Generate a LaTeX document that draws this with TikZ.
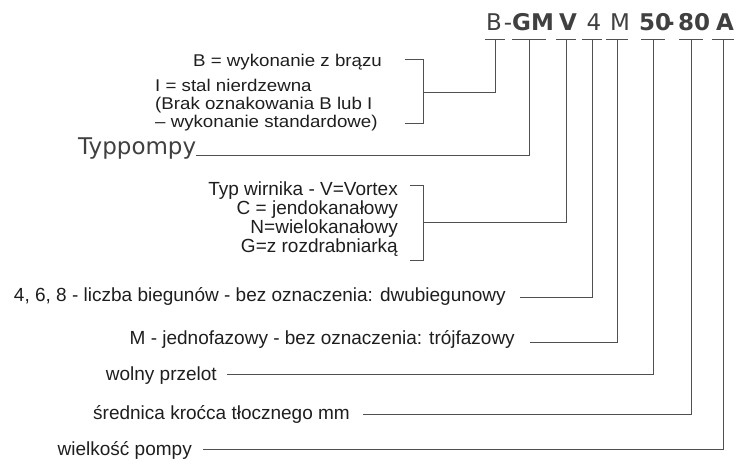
\documentclass[tikz,border=0pt]{standalone}
\usepackage{fontspec}
\setmainfont{Liberation Sans}
\newfontfamily\codefont{DejaVu Sans}
\newfontfamily\widefont[FakeStretch=1.1]{Liberation Sans}
\usetikzlibrary{positioning}
\definecolor{leadgray}{RGB}{80,80,80}
\definecolor{inkgray}{RGB}{30,30,30}
\tikzset{
	lead/.style={draw=leadgray, line width=0.9pt},
	desc/.style={inner sep=0pt, text=inkgray, font=\fontsize{19}{19}\selectfont},
	widedesc/.style={inner sep=0pt, text=inkgray, font=\fontsize{17}{18}\widefont},
	code/.style={inner sep=0pt, anchor=base, text=inkgray!85, font=\fontsize{23}{26}\codefont}
}

\begin{document}
\begin{tikzpicture}[
	x=1pt, y=-1pt,
	bracket/.style={lead},
	title/.style={inner sep=0pt, anchor=base west, text=inkgray!85, font=\fontsize{23}{26}\codefont}]
	\useasboundingbox (0,0) rectangle (751,464);
	% model code
	\foreach \name/\x/\txt in {B/494/B, d1/508/-, GM/533/\bfseries GM, V/568/\bfseries V,
		P/594/4, F/620/M, S/655/\bfseries 50, d2/670/\bfseries -, N/694/\bfseries 80, A/725/\bfseries A}
		\node[code] (c\name) at (\x,30) {\txt};
	\foreach \name/\x/\w in {B/495/10, GM/529/17, V/566/10, P/592/10, F/617/11, S/653/12, N/691/12, A/723/11} {
		\coordinate (s\name) at (\x,39);
		\draw[lead] (\x-\w,39) -- (\x+\w,39);
	}
	% material
	\node[widedesc, anchor=base east] (bronze) at (382,66) {B = wykonanie z brązu};
	\node[widedesc, anchor=base west] (steel) at (155,91) {I = stal nierdzewna};
	\node[widedesc, anchor=base west] (nomark) at (155,109) {(Brak oznakowania B lub I};
	\node[widedesc, anchor=base west] (standard) at (155,127) {– wykonanie standardowe)};
	\coordinate (mattop) at (423,59);
	\coordinate (matbot) at (423,123);
	\coordinate (matmid) at (423,92);
	\draw[bracket] ([xshift=-18pt]mattop) -- (mattop) -- (matbot) -- ([xshift=-18pt]matbot);
	\draw[lead] (sB) |- (matmid);
	% pump type
	\node[title] (typ) at (78,154) {Typpompy};
	\coordinate (typend) at ([yshift=-1pt]typ.base east);
	\draw[lead] (sGM) |- (typend);
	% impeller
	\node[desc, anchor=base east] (imp1) at (398,195) {Typ wirnika - V=Vortex};
	\node[desc, anchor=base east] (imp2) at (398,214) {C = jendokanałowy};
	\node[desc, anchor=base east] (imp3) at (398,233) {N=wielokanałowy};
	\node[desc, anchor=base east] (imp4) at (398,252) {G=z rozdrabniarką};
	\coordinate (imptop) at (423,185);
	\coordinate (impbot) at (423,260);
	\coordinate (impmid) at (423,222);
	\draw[bracket] ([xshift=-13pt]imptop) -- (imptop) -- (impbot) -- ([xshift=-13pt]impbot);
	\draw[lead] (sV) |- (impmid);
	% remaining digits
	\node[desc, anchor=base east] (poles) at (506,301) {4, 6, 8 - liczba biegunów - bez oznaczenia: dwubiegunowy};
	\node[desc, anchor=base east] (phase) at (515,344) {M - jednofazowy - bez oznaczenia: trójfazowy};
	\node[desc, anchor=base east] (passage) at (217,380) {wolny przelot};
	\node[desc, anchor=base east] (outlet) at (350,419) {średnica krоćca tłocznego mm};
	\node[desc, anchor=base east] (size) at (192,455) {wielkość pompy};
	\coordinate (polesend) at (520,297);
	\coordinate (phaseend) at (530,342);
	\coordinate (passageend) at (227,374);
	\coordinate (outletend) at (363,414);
	\coordinate (sizeend) at (203,449);
	\draw[lead] (sP) |- (polesend);
	\draw[lead] (sF) |- (phaseend);
	\draw[lead] (sS) |- (passageend);
	\draw[lead] (sN) |- (outletend);
	\draw[lead] (sA) |- (sizeend);
\end{tikzpicture}
\end{document}
